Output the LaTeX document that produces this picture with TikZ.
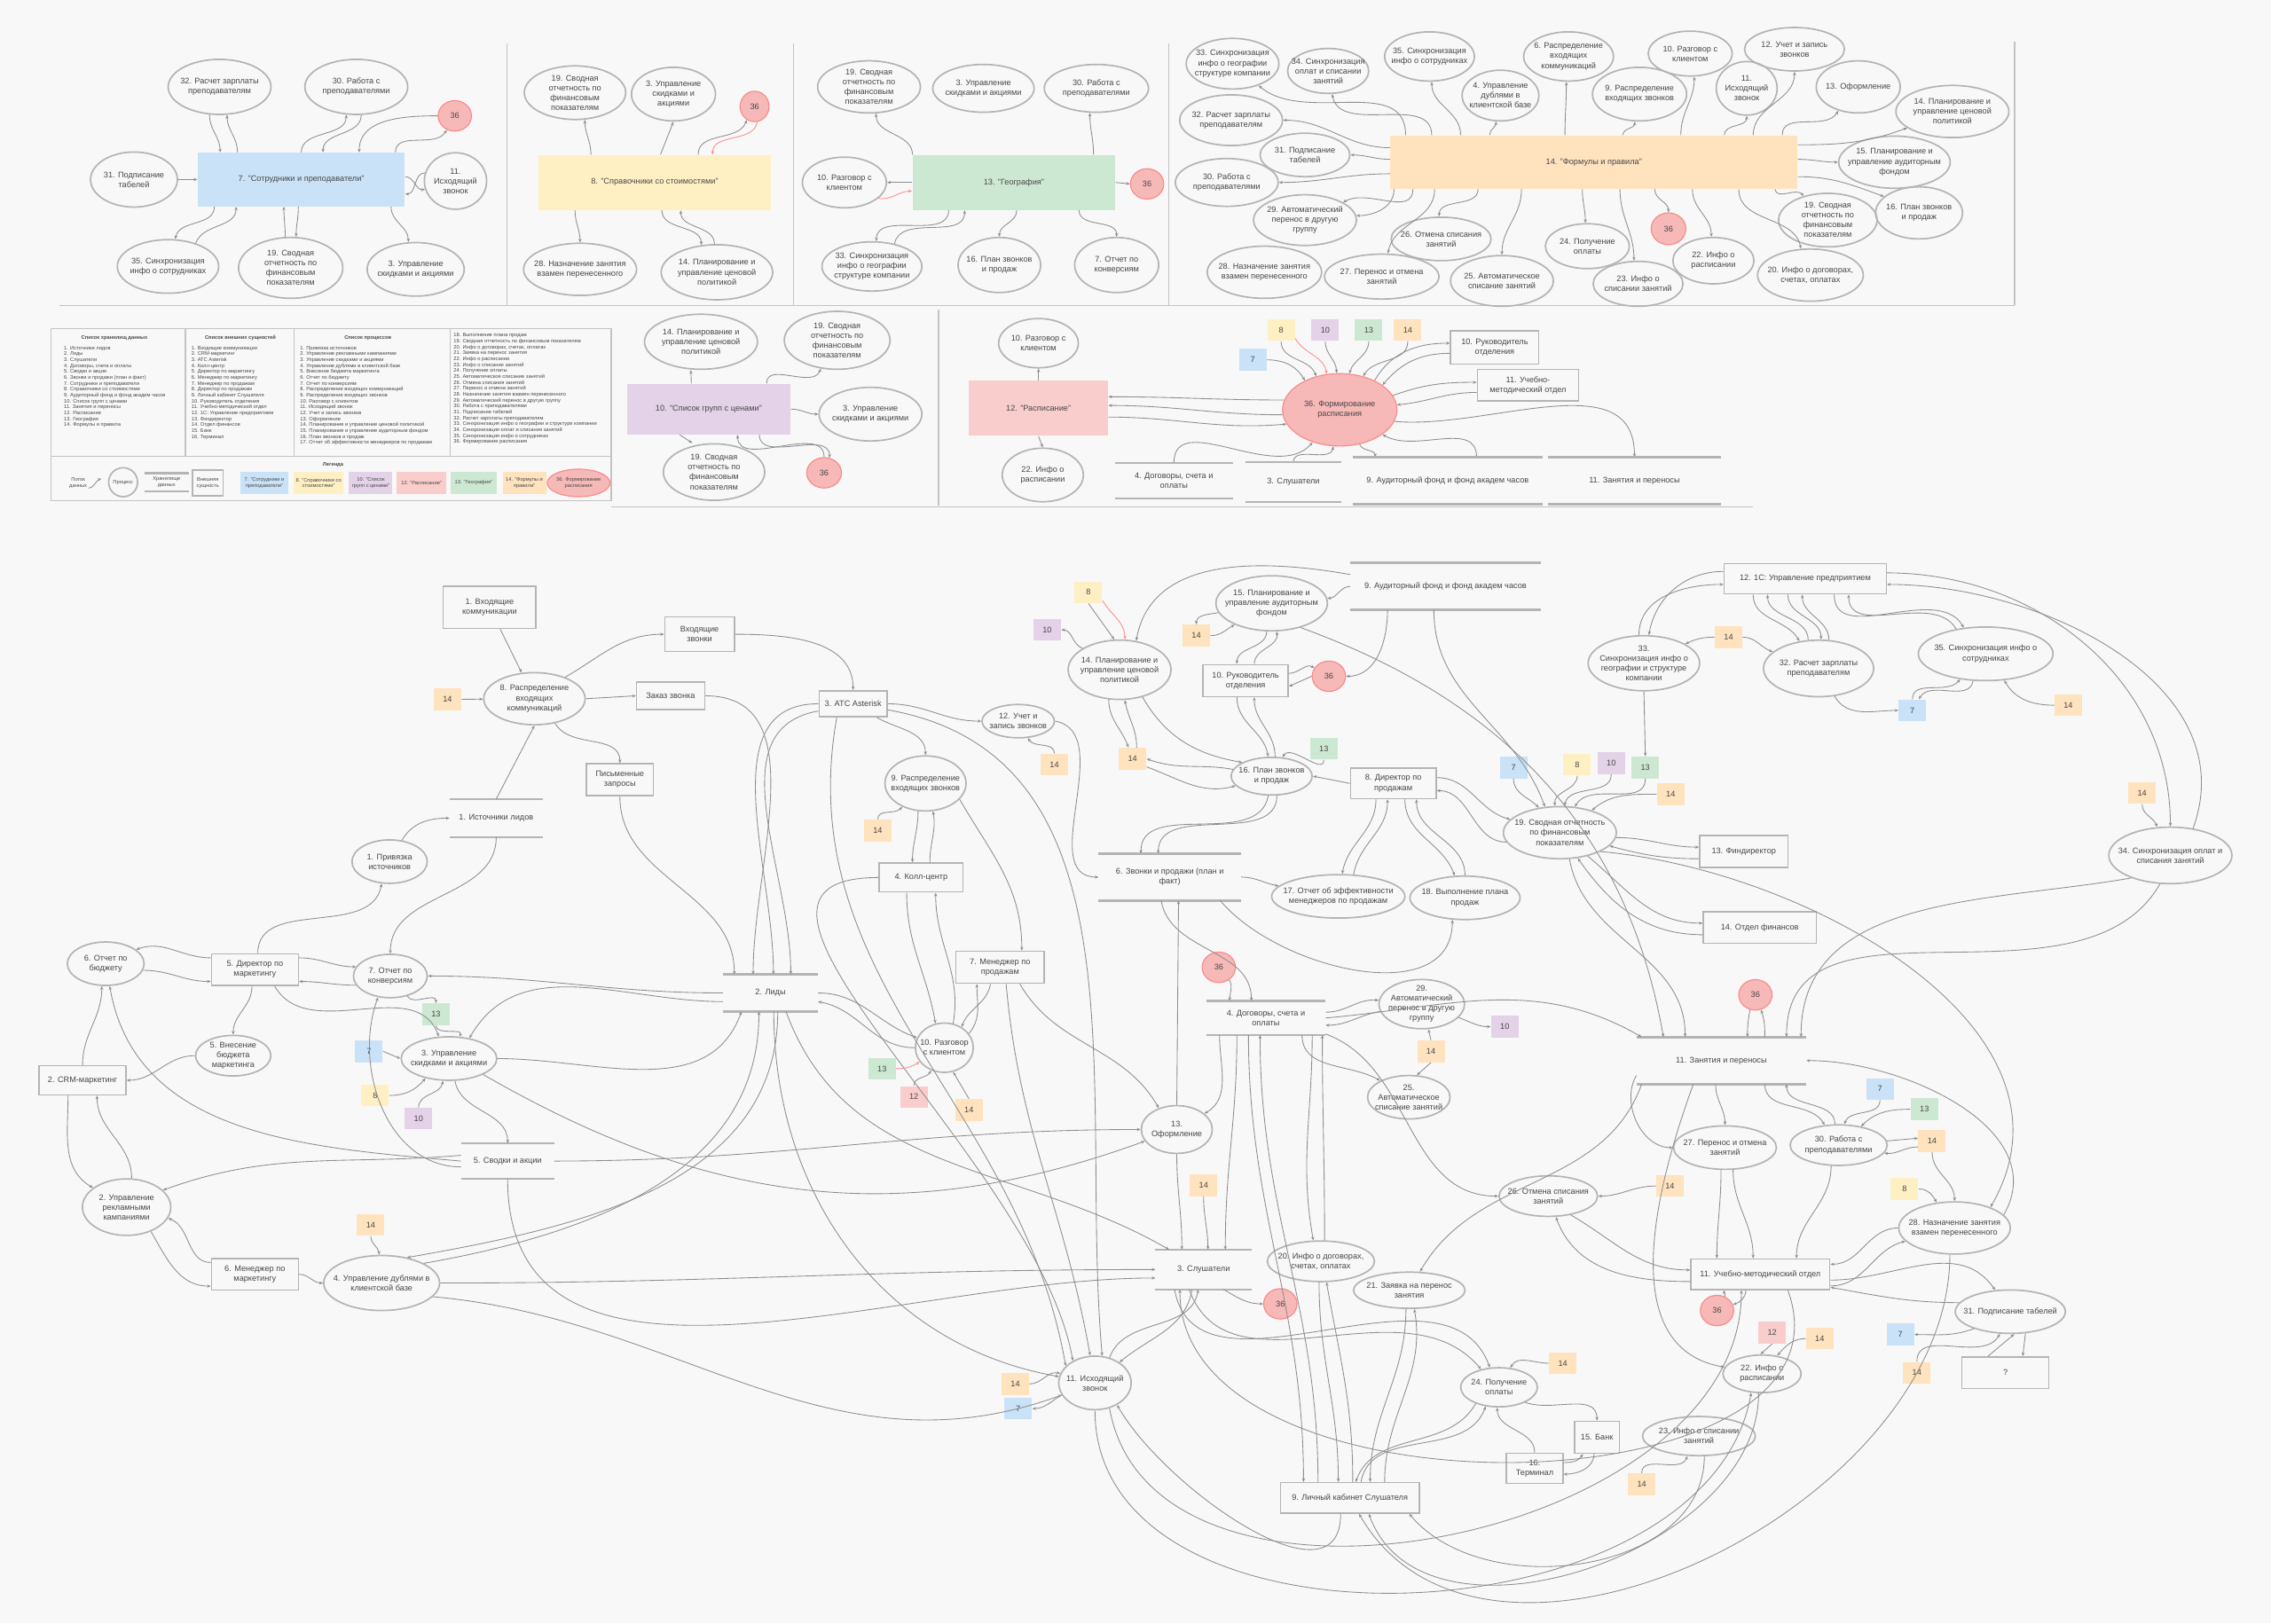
\documentclass[tikz,border=0pt]{standalone}
\usepackage{fontspec}
\setmainfont{Liberation Sans}
\usetikzlibrary{shapes.geometric,arrows.meta}

\definecolor{bgc}{HTML}{F8F8F8}
\definecolor{lnc}{HTML}{8E8E8E}
\definecolor{bdc}{HTML}{B4B4B4}
\definecolor{txc}{HTML}{474747}
\definecolor{c7}{HTML}{C9E2F7}
\definecolor{c8}{HTML}{FFF0C4}
\definecolor{c10}{HTML}{E3D2E8}
\definecolor{c12}{HTML}{F8CDCC}
\definecolor{c13}{HTML}{CDE8D2}
\definecolor{c14}{HTML}{FFE2BE}
\definecolor{c36}{HTML}{F7B8B8}

\newlength{\px}
\setlength{\px}{0.03cm}

\tikzset{
  every node/.style={font=\fontsize{4.8}{5.8}\selectfont, text=txc, align=center, inner sep=0pt},
  flow/.style={-{Stealth[length=2.2pt,width=1.8pt]}, draw=lnc, line width=0.45pt},
  redflow/.style={flow, draw=red!45},
  proc/.style n args={2}{ellipse, draw=bdc, line width=0.9pt, inner xsep=-6pt, inner ysep=-2pt,
    minimum width=#1\px, minimum height=#2\px},
  ext/.style n args={2}{rectangle, draw=bdc, line width=0.8pt, fill=bgc,
    minimum width=#1\px, minimum height=#2\px},
  store/.style n args={2}{rectangle, minimum width=#1\px, minimum height=#2\px},
  storeline/.style={draw=bdc, line width=1.3pt},
  hub/.style n args={3}{rectangle, fill=#1, minimum width=#2\px, minimum height=#3\px},
  sq/.style={rectangle, fill=#1, minimum width=19\px, minimum height=15\px},
  rc/.style={ellipse, fill=c36, draw=c36!75!red, line width=0.6pt, minimum width=23\px, minimum height=21\px},
  frame/.style={draw=bdc!80, line width=0.6pt},
  lgtxt/.style={font=\fontsize{3}{3.48}\selectfont},
}

\begin{document}
\begin{tikzpicture}[x=0.03cm, y=-0.03cm]
  \fill[bgc] (0,0) rectangle (1568,1121);
  \useasboundingbox (0,0) rectangle (1568,1121);

  % Panel frames
  \draw[frame] (41,211) -- (1391,211);
  \draw[frame] (350,30) -- (350,211);
  \draw[frame] (548,30) -- (548,211);
  \draw[frame] (807,30) -- (807,211);
  \draw[frame] (1391,29) -- (1391,211);
  \draw[frame] (648,214) -- (648,349);
  \draw[frame] (422,350) -- (1210,350);

  % Panel 7: staff
  \node[hub={c7}{143}{37}] (a7) at (208,124) {7. "Сотрудники и преподаватели"};
  \node[proc={71}{38}] (a32) at (151.6,60) {32. Расчет зарплаты\\преподавателям};
  \node[proc={71}{38}] (a30) at (246,60) {30. Работа с\\преподавателями};
  \node[rc] (a36) at (314,80) {36};
  \node[proc={60}{38}] (a31) at (92.5,124) {31. Подписание\\табелей};
  \node[proc={43}{39}] (a11) at (314.5,125) {11.\\Исходящий\\звонок};
  \node[proc={70}{37}] (a35) at (116,184) {35. Синхронизация\\инфо о сотрудниках};
  \node[proc={72}{42}] (a19) at (200.7,185) {19. Сводная\\отчетность по\\финансовым\\показателям};
  \node[proc={67}{37}] (a3) at (287,186) {3. Управление\\скидками и акциями};

  \draw[flow] (a32.-110) to[out=-90,in=90] ([xshift=-56\px]a7.north);
  \draw[flow] ([xshift=-44\px]a7.north) to[out=90,in=-90] (a32.-75);
  \draw[flow] ([xshift=0\px]a7.north) to[out=90,in=-90] (a30.-110);
  \draw[flow] (a30.-80) to[out=-90,in=90] ([xshift=15\px]a7.north);
  \draw[flow] (a36.west) to[out=180,in=90] ([xshift=40\px]a7.north);
  \draw[flow] ([xshift=65\px]a7.north) to[out=90,in=-120] (a36.-120);
  \draw[flow] (a31.east) -- (a7.west);
  \draw[flow] (a11.165) to[out=180,in=0] ([yshift=-10\px]a7.east);
  \draw[flow] ([yshift=2\px]a7.east) to[out=0,in=190] (a11.-165);
  \draw[flow] ([xshift=-60\px]a7.south) to[out=-90,in=80] (a35.75);
  \draw[flow] (a35.40) to[out=70,in=-90] ([xshift=-45\px]a7.south);
  \draw[flow] (a19.100) to[out=90,in=-90] ([xshift=-12\px]a7.south);
  \draw[flow] ([xshift=-2\px]a7.south) to[out=-90,in=90] (a19.80);
  \draw[flow] ([xshift=62\px]a7.south) to[out=-90,in=90] (a3.105);

  % Panel 8: prices
  \node[hub={c8}{160}{38}] (b8) at (452,126) {8. "Справочники со стоимостями"};
  \node[proc={70}{37}] (b19) at (397,64) {19. Сводная\\отчетность по\\финансовым\\показателям};
  \node[proc={58}{37}] (b3) at (465,65) {3. Управление\\скидками и\\акциями};
  \node[rc, minimum width=20\px] (b36) at (521,73.5) {36};
  \node[proc={78}{36}] (b28) at (400.5,186) {28. Назначение занятия\\взамен перенесенного};
  \node[proc={77}{38}] (b14) at (495,188) {14. Планирование и\\управление ценовой\\политикой};

  \draw[flow] ([xshift=-44\px]b8.north) to[out=90,in=-90] (b19.-70);
  \draw[flow] ([xshift=4\px]b8.north) -- (b3.south);
  \draw[flow] ([xshift=30\px]b8.north) to[out=90,in=-110] (b36.-120);
  \draw[redflow] (b36.-80) to[out=-100,in=90] ([xshift=40\px]b8.north);
  \draw[flow] ([xshift=-55\px]b8.south) to[out=-90,in=90] (b28.north);
  \draw[flow] ([xshift=5\px]b8.south) to[out=-90,in=90] (b14.120);
  \draw[flow] (b14.95) to[out=90,in=-90] ([xshift=18\px]b8.south);

  % Panel 13: geography
  \node[hub={c13}{140}{38}] (c13) at (700,126) {13. "География"};
  \node[proc={71}{36}] (c19) at (600,60) {19. Сводная\\отчетность по\\финансовым\\показателям};
  \node[proc={70}{33}] (c3) at (679,61) {3. Управление\\скидками и акциями};
  \node[proc={72}{33}] (c30) at (757,61) {30. Работа с\\преподавателями};
  \node[proc={58}{35}] (c10) at (583,126) {10. Разговор с\\клиентом};
  \node[rc] (c36) at (792,127) {36};
  \node[proc={69}{34}] (c33) at (602,184) {33. Синхронизация\\инфо о географии\\структуре компании};
  \node[proc={57}{38}] (c16) at (690,183) {16. План звонков\\и продаж};
  \node[proc={58}{38}] (c7) at (771,183) {7. Отчет по\\конверсиям};

  \draw[flow] ([xshift=-70\px]c13.north) to[out=90,in=-90] (c19.-75);
  \draw[flow] ([xshift=55\px]c13.north) to[out=90,in=-90] (c30.-105);
  \draw[flow] (c13.west) -- (c10.east);
  \draw[redflow] (c10.-25) to[out=-10,in=180] ([yshift=-6\px]c13.west);
  \draw[flow] (c13.east) -- (c36.west);
  \draw[flow] ([xshift=-45\px]c13.south) to[out=-90,in=90] (c33.80);
  \draw[flow] (c33.45) to[out=80,in=-90] ([xshift=-34\px]c13.south);
  \draw[flow] ([xshift=2\px]c13.south) to[out=-90,in=90] (c16.north);
  \draw[flow] ([xshift=45\px]c13.south) to[out=-90,in=90] (c7.north);

  % Panel 14: formulas
  \node[hub={c14}{281}{37}] (d14) at (1100.5,112) {14. "Формулы и правила"};
  \node[proc={64}{35}] (d33) at (851,44) {33. Синхронизация\\инфо о географии\\структуре компании};
  \node[proc={56}{31}] (d34) at (917,49) {34. Синхронизация\\оплат и списании\\занятий};
  \node[proc={62}{34}] (d35) at (987,39) {35. Синхронизация\\инфо о сотрудниках};
  \node[proc={62}{34}] (d6) at (1083,39) {6. Распределение\\входящих\\коммуникаций};
  \node[proc={53}{35}] (d4) at (1036,66) {4. Управление\\дублями в\\клиентской базе};
  \node[proc={65}{37}] (d9) at (1132,65) {9. Распределение\\входящих звонков};
  \node[proc={58}{31}] (d10) at (1167,37) {10. Разговор с\\клиентом};
  \node[proc={42}{37}] (d11) at (1206,61) {11.\\Исходящий\\звонок};
  \node[proc={69}{30}] (d12) at (1239,34) {12. Учет и запись\\звонков};
  \node[proc={58}{36}] (d13) at (1283,60) {13. Оформление};
  \node[proc={78}{36}] (d14b) at (1348,77) {14. Планирование и\\управление ценовой\\политикой};
  \node[proc={77}{36}] (d15) at (1308,112) {15. Планирование и\\управление аудиторным\\фондом};
  \node[proc={60}{36}] (d16) at (1325,147) {16. План звонков\\и продаж};
  \node[proc={68}{37}] (d19) at (1262,152) {19. Сводная\\отчетность по\\финансовым\\показателям};
  \node[proc={73}{36}] (d20) at (1250,190) {20. Инфо о договорах,\\счетах, оплатах};
  \node[proc={56}{32}] (d22) at (1183,180) {22. Инфо о\\расписании};
  \node[rc, minimum width=24\px, minimum height=22\px] (d36) at (1152,158) {36};
  \node[proc={62}{31}] (d23) at (1131,196) {23. Инфо о\\списании занятий};
  \node[proc={58}{31}] (d24) at (1096,170) {24. Получение\\оплаты};
  \node[proc={71}{35}] (d25) at (1037,194) {25. Автоматическое\\списание занятий};
  \node[proc={69}{30}] (d26) at (995,165) {26. Отмена списания\\занятий};
  \node[proc={79}{31}] (d27) at (954,191) {27. Перенос и отмена\\занятий};
  \node[proc={79}{36}] (d28) at (873,188) {28. Назначение занятия\\взамен перенесенного};
  \node[proc={71}{35}] (d32) at (850,83) {32. Расчет зарплаты\\преподавателям};
  \node[proc={62}{30}] (d31) at (901,107) {31. Подписание\\табелей};
  \node[proc={71}{33}] (d30) at (847,126) {30. Работа с\\преподавателями};
  \node[proc={71}{35}] (d29) at (901,152) {29. Автоматический\\перенос в другую\\группу};

  \draw[flow] ([xshift=-130\px]d14.north) to[out=90,in=-40] (d33.-40);
  \draw[flow] ([xshift=-112\px]d14.north) to[out=90,in=-80] (d34.-80);
  \draw[flow] ([xshift=-92\px]d14.north) to[out=90,in=-90] (d35.-85);
  \draw[flow] ([xshift=-72\px]d14.north) to[out=90,in=-90] (d4.-100);
  \draw[flow] ([xshift=-20\px]d14.north) to[out=90,in=-90] (d6.-95);
  \draw[flow] ([xshift=20\px]d14.north) to[out=90,in=-90] (d9.-100);
  \draw[flow] ([xshift=60\px]d14.north) to[out=90,in=-90] (d10.-80);
  \draw[flow] ([xshift=90\px]d14.north) to[out=90,in=-90] (d11.-90);
  \draw[flow] ([xshift=110\px]d14.north) to[out=90,in=-90] (d12.-90);
  \draw[flow] ([xshift=130\px]d14.north) to[out=90,in=-120] (d13.-130);
  \draw[flow] ([yshift=10\px]d14.west) to[out=180,in=0] (d32.east);
  \draw[flow] ([yshift=2\px]d14.west) to[out=180,in=0] (d31.east);
  \draw[flow] ([yshift=-8\px]d14.west) to[out=180,in=0] (d30.east);
  \draw[flow] ([xshift=-125\px]d14.south) to[out=-90,in=30] (d29.25);
  \draw[flow] ([xshift=-138\px]d14.south) to[out=-90,in=0] (d29.5);
  \draw[flow] ([xshift=-110\px]d14.south) to[out=-90,in=80] (d27.75);
  \draw[flow] ([xshift=-80\px]d14.south) to[out=-90,in=90] (d26.95);
  \draw[flow] ([xshift=-50\px]d14.south) to[out=-90,in=90] (d25.90);
  \draw[flow] ([xshift=-8\px]d14.south) to[out=-90,in=90] (d24.95);
  \draw[flow] ([xshift=18\px]d14.south) to[out=-90,in=90] (d23.100);
  \draw[flow] ([xshift=42\px]d14.south) to[out=-90,in=90] (d36.north);
  \draw[flow] ([xshift=68\px]d14.south) to[out=-90,in=90] (d22.95);
  \draw[flow] ([xshift=100\px]d14.south) to[out=-90,in=100] (d20.110);
  \draw[flow] ([xshift=125\px]d14.south) to[out=-80,in=130] (d19.135);
  \draw[flow] ([yshift=12\px]d14.east) to[out=0,in=200] (d14b.200);
  \draw[flow] ([yshift=2\px]d14.east) to[out=0,in=180] (d15.west);
  \draw[flow] ([yshift=-10\px]d14.east) to[out=0,in=160] (d16.155);

  % Legend table
  \draw[frame] (35,227) rectangle (422,346);
  \draw[frame] (35,315) -- (422,315);
  \foreach \xx in {128,203,311}
    \draw[frame] (\xx,227) -- (\xx,315);
  \node[lgtxt] (hd1) at (79,233.5) {\bfseries Список хранилищ данных};
  \node[lgtxt] (hd2) at (166,233.5) {\bfseries Список внешних сущностей};
  \node[lgtxt] (hd3) at (254,233.5) {\bfseries Список процессов};
  \node[lgtxt, align=left, anchor=north west] (ls1) at (44,238.8) {1. Источники лидов\\2. Лиды\\3. Слушатели\\4. Договоры, счета и оплаты\\5. Сводки и акции\\6. Звонки и продажи (план и факт)\\7. Сотрудники и преподаватели\\8. Справочники со стоимостями\\9. Аудиторный фонд и фонд академ часов\\10. Список групп с ценами\\11. Занятия и переносы\\12. Расписание\\13. География\\14. Формулы и правила};
  \node[lgtxt, align=left, anchor=north west] (ls2) at (132,238.8) {1. Входящие коммуникации\\2. CRM-маркетинг\\3. АТС Asterisk\\4. Колл-центр\\5. Директор по маркетингу\\6. Менеджер по маркетингу\\7. Менеджер по продажам\\8. Директор по продажам\\9. Личный кабинет Слушателя\\10. Руководитель отделения\\11. Учебно-методический отдел\\12. 1С: Управление предприятием\\13. Финдиректор\\14. Отдел финансов\\15. Банк\\16. Терминал};
  \node[lgtxt, align=left, anchor=north west] (ls3) at (207,238.8) {1. Привязка источников\\2. Управление рекламными кампаниями\\3. Управление скидками и акциями\\4. Управление дублями в клиентской базе\\5. Внесение бюджета маркетинга\\6. Отчет по бюджету\\7. Отчет по конверсиям\\8. Распределение входящих коммуникаций\\9. Распределение входящих звонков\\10. Разговор с клиентом\\11. Исходящий звонок\\12. Учет и запись звонков\\13. Оформление\\14. Планирование и управление ценовой политикой\\15. Планирование и управление аудиторным фондом\\16. План звонков и продаж\\17. Отчет об эффективности менеджеров по продажам};
  \node[lgtxt, align=left, anchor=north west] (ls4) at (313,230) {18. Выполнение плана продаж\\19. Сводная отчетность по финансовым показателям\\20. Инфо о договорах, счетах, оплатах\\21. Заявка на перенос занятия\\22. Инфо о расписании\\23. Инфо о списании занятий\\24. Получение оплаты\\25. Автоматическое списание занятий\\26. Отмена списания занятий\\27. Перенос и отмена занятий\\28. Назначение занятия взамен перенесенного\\29. Автоматический перенос в другую группу\\30. Работа с преподавателями\\31. Подписание табелей\\32. Расчет зарплаты преподавателям\\33. Синхронизация инфо о географии и структуре компании\\34. Синхронизация оплат и списания занятий\\35. Синхронизация инфо о сотрудниках\\36. Формирование расписания};

  % Legend symbols
  \node[lgtxt] (lgh) at (230,321) {\bfseries Легенда};
  \node[lgtxt] (lgflow) at (54,333.5) {Поток\\данных};
  \coordinate (lga) at (61,337);
  \coordinate (lgb) at (70,330.5);
  \draw[flow] (lga) to[out=0,in=200] (lgb);
  \node[proc={20}{20}, lgtxt, inner xsep=0pt] (lgproc) at (85,333) {Процесс};
  \node[store={30}{12}, lgtxt] (lgstore) at (115,333) {Хранилище\\данных};
  \node[ext={21}{18}, lgtxt] (lgext) at (143.5,333.5) {Внешняя\\сущность};
  \node[hub={c7}{33}{15}, lgtxt] (lg7) at (182.5,333.5) {7. "Сотрудники и\\преподаватели"};
  \node[hub={c8}{34}{15}, lgtxt] (lg8) at (220,333.5) {8. "Справочники со\\стоимостями"};
  \node[hub={c10}{30}{15}, lgtxt] (lg10) at (256,333.5) {10. "Список\\групп с ценами"};
  \node[hub={c12}{34}{15}, lgtxt] (lg12) at (291,333.5) {12. "Расписание"};
  \node[hub={c13}{32}{15}, lgtxt] (lg13) at (327,333.5) {13. "География"};
  \node[hub={c14}{30}{15}, lgtxt] (lg14) at (362,333.5) {14. "Формулы и\\правила"};
  \node[rc, minimum width=35\px, minimum height=19\px, lgtxt] (lg36) at (399.5,333.5) {36. Формирование\\расписания};

  % Panel 10: price groups
  \node[hub={c10}{113}{35}] (g10) at (489.3,282.5) {10. "Список групп с ценами"};
  \node[proc={78}{38}] (g14) at (484,236) {14. Планирование и\\управление ценовой\\политикой};
  \node[proc={73}{40}] (g19a) at (578,235) {19. Сводная\\отчетность по\\финансовым\\показателям};
  \node[proc={71}{37}] (g3) at (601,286) {3. Управление\\скидками и акциями};
  \node[proc={70}{39}] (g19b) at (493,326) {19. Сводная\\отчетность по\\финансовым\\показателям};
  \node[rc, minimum width=24\px] (g36) at (569,326.5) {36};

  \draw[flow] ([xshift=-12\px]g10.north) -- ([xshift=-7\px]g14.south);
  \draw[flow] ([xshift=40\px]g10.north) to[out=90,in=-110] (g19a.-120);
  \draw[flow] (g10.east) to[out=0,in=180] (g3.west);
  \draw[flow] ([xshift=-20\px]g10.south) -- ([xshift=-15\px]g19b.north);
  \draw[flow] (g36.north) to[out=90,in=-90] ([xshift=20\px]g10.south);
  \draw[flow] ([xshift=35\px]g10.south) to[out=-90,in=90] (g36.70);

  % Panel 12: schedule
  \node[hub={c12}{96}{38}] (h12) at (717,282) {12. "Расписание"};
  \node[proc={55}{34}] (h10) at (717,237) {10. Разговор с\\клиентом};
  \node[proc={56}{37}] (h22) at (720,328) {22. Инфо о\\расписании};
  \node[rc, minimum width=79\px, minimum height=50\px] (h36) at (925,283) {36. Формирование\\расписания};
  \node[ext={61}{23}] (h10e) at (1032,240) {10. Руководитель\\отделения};
  \node[ext={70}{22}] (h11e) at (1055,266) {11. Учебно-\\методический отдел};
  \node[store={81}{24}] (hs4) at (810.5,332) {4. Договоры, счета и\\оплаты};
  \node[store={66}{27}] (hs3) at (893,333) {3. Слушатели};
  \node[store={131}{32}] (hs9) at (999.5,332) {9. Аудиторный фонд и фонд академ часов};
  \node[store={119}{32}] (hs11) at (1128.5,332) {11. Занятия и переносы};
  \foreach \nm/\xx/\yy/\lb in {hq7/865/248.5/7, hq8/884.5/228/8, hq10/915/228/10, hq13/945/228/13, hq14/972/228/14}
    \node[sq=c\lb] (\nm) at (\xx,\yy) {\lb};

  \draw[flow] (h12.north) -- (h10.south);
  \draw[flow] (h12.south) -- (h22.north);
  \draw[flow] (h36.170) to[out=180,in=0] ([yshift=8\px]h12.east);
  \draw[flow] (h36.185) to[out=180,in=0] ([yshift=2\px]h12.east);
  \draw[flow] ([yshift=-6\px]h12.east) to[out=0,in=185] (h36.195);
  \draw[flow] (hq7.east) to[out=0,in=120] (h36.140);
  \draw[flow] (hq8.south) to[out=-90,in=110] (h36.125);
  \draw[redflow] (hq8.-30) to[out=-60,in=100] (h36.110);
  \draw[flow] (hq10.south) to[out=-90,in=90] (h36.95);
  \draw[flow] (hq13.south) to[out=-90,in=75] (h36.75);
  \draw[flow] (hq14.south) to[out=-90,in=60] (h36.55);
  \draw[flow] (h36.40) to[out=60,in=180] ([yshift=3\px]h10e.west);
  \draw[flow] ([yshift=-4\px]h10e.west) to[out=180,in=50] (h36.30);
  \draw[flow] (h36.15) to[out=20,in=180] ([yshift=2\px]h11e.west);
  \draw[flow] ([yshift=-5\px]h11e.west) to[out=180,in=5] (h36.5);
  \draw[flow] (hs4.north) to[out=90,in=-130] (h36.-130);
  \draw[flow] (hs3.north) to[out=90,in=-100] (h36.-100);
  \draw[flow] (h36.-60) to[out=-70,in=90] ([xshift=-50\px]hs9.north);
  \draw[flow] ([xshift=20\px]hs9.north) to[out=90,in=-30] (h36.-30);
  \draw[flow] (h36.-12) to[out=-5,in=90] (hs11.north);

  % Main diagram: external entities
  \node[ext={64}{29}] (e1) at (338,419.5) {1. Входящие\\коммуникации};
  \node[ext={48}{24}] (ein) at (483,438) {Входящие\\звонки};
  \node[ext={47}{19}] (ezz) at (463,480.5) {Заказ звонка};
  \node[ext={46}{22}] (epz) at (428,538.5) {Письменные\\запросы};
  \node[ext={47}{18}] (e3) at (589,486) {3. АТС Asterisk};
  \node[ext={58}{20}] (e4) at (636,606) {4. Колл-центр};
  \node[ext={61}{22}] (e7) at (690.5,668) {7. Менеджер по\\продажам};
  \node[ext={60}{22}] (e5) at (176,669.6) {5. Директор по\\маркетингу};
  \node[ext={60}{20}] (e2) at (57,746) {2. CRM-маркетинг};
  \node[ext={60}{22}] (e6) at (176,880) {6. Менеджер по\\маркетингу};
  \node[ext={59}{22}] (e10) at (860,470) {10. Руководитель\\отделения};
  \node[ext={59}{21}] (e8) at (962,541) {8. Директор по\\продажам};
  \node[ext={112}{21}] (e12) at (1246.4,399.6) {12. 1С: Управление предприятием};
  \node[ext={61}{22}] (e13) at (1204,588) {13. Финдиректор};
  \node[ext={78}{22}] (e14) at (1215,640.5) {14. Отдел финансов};
  \node[ext={96}{21}] (e9) at (932,1034.4) {9. Личный кабинет Слушателя};
  \node[ext={31}{22}] (e15) at (1102.6,992.5) {15. Банк};
  \node[ext={39}{21}] (e16) at (1059.6,1014) {16.\\Терминал};
  \node[ext={96}{21}] (e11) at (1215.4,880) {11. Учебно-методический отдел};
  \node[ext={60}{22}] (eq) at (1384.6,948) {?};

  % Main diagram: data stores
  \node[store={64}{26}] (s1) at (342.6,565) {1. Источники лидов};
  \node[store={65}{25}] (s2) at (532,685.7) {2. Лиды};
  \node[store={64}{24}] (s5) at (350.5,801.8) {5. Сводки и акции};
  \node[store={98}{32}] (s6) at (807.7,605.7) {6. Звонки и продажи (план и\\факт)};
  \node[store={131}{32}] (s9) at (998,405) {9. Аудиторный фонд и фонд академ часов};
  \node[store={82}{23}] (s4) at (874,703) {4. Договоры, счета и\\оплаты};
  \node[store={117}{32}] (s11) at (1188.5,732.4) {11. Занятия и переносы};
  \node[store={66}{27}] (s3) at (831,876.7) {3. Слушатели};
  \foreach \st in {s1,s2,s5,s6,s9,s4,s11,s3,hs4,hs3,hs9,hs11,lgstore}
    \draw[storeline] (\st.north west) -- (\st.north east) (\st.south west) -- (\st.south east);

  % Main diagram: processes
  \node[proc={70}{36}] (p8) at (369,482.5) {8. Распределение\\входящих\\коммуникаций};
  \node[proc={52}{30}] (p1) at (269,595) {1. Привязка\\источников};
  \node[proc={53}{30}] (p6) at (73,665.5) {6. Отчет по\\бюджету};
  \node[proc={51}{30}] (p7) at (269.5,674) {7. Отчет по\\конверсиям};
  \node[proc={52}{28}] (p5) at (161,729) {5. Внесение\\бюджета\\маркетинга};
  \node[proc={66}{30}] (p3) at (310,731) {3. Управление\\скидками и акциями};
  \node[proc={61}{39}] (p2) at (87.4,833.6) {2. Управление\\рекламными\\кампаниями};
  \node[proc={80}{38}] (p4) at (263.5,886) {4. Управление дублями в\\клиентской базе};
  \node[proc={56}{38}] (p9) at (639,541) {9. Распределение\\входящих звонков};
  \node[proc={50}{23}] (p12) at (703,498) {12. Учет и\\запись звонков};
  \node[proc={40}{34}] (p10) at (652,723.5) {10. Разговор\\с клиентом};
  \node[proc={71}{41}] (p14) at (773,462.5) {14. Планирование и\\управление ценовой\\политикой};
  \node[proc={77}{38}] (p15) at (878,416.6) {15. Планирование и\\управление аудиторным\\фондом};
  \node[proc={56}{26}] (p16) at (878,536) {16. План звонков\\и продаж};
  \node[proc={92}{30}] (p17) at (924,619) {17. Отчет об эффективности\\менеджеров по продажам};
  \node[proc={76}{30}] (p18) at (1011.5,620) {18. Выполнение плана\\продаж};
  \node[proc={78}{36}] (p19) at (1077,575) {19. Сводная отчетность\\по финансовым\\показателям};
  \node[proc={77}{38}] (p33) at (1135,458) {33.\\Синхронизация инфо о\\географии и структуре\\компании};
  \node[proc={76}{39}] (p32) at (1255.6,461.6) {32. Расчет зарплаты\\преподавателям};
  \node[proc={93}{37}] (p35) at (1371,451.5) {35. Синхронизация инфо о\\сотрудниках};
  \node[proc={85}{39}] (p34) at (1498.5,590.7) {34. Синхронизация оплат и\\списания занятий};
  \node[proc={59}{34}] (p29) at (981.6,693.4) {29.\\Автоматический\\перенос в другую\\группу};
  \node[proc={57}{30}] (p25) at (972.7,757.7) {25.\\Автоматическое\\списание занятий};
  \node[proc={49}{33}] (p13) at (812.5,780) {13.\\Оформление};
  \node[proc={71}{30}] (p27) at (1191,792.5) {27. Перенос и отмена\\занятий};
  \node[proc={67}{28}] (p30) at (1269.5,790.8) {30. Работа с\\преподавателями};
  \node[proc={68}{28}] (p26) at (1069,826) {26. Отмена списания\\занятий};
  \node[proc={77}{36}] (p28) at (1349.5,848) {28. Назначение занятия\\взамен перенесенного};
  \node[proc={74}{28}] (p20) at (912,871) {20. Инфо о договорах,\\счетах, оплатах};
  \node[proc={77}{25}] (p21) at (973,891) {21. Заявка на перенос\\занятия};
  \node[proc={50}{37}] (p11) at (756,955) {11. Исходящий\\звонок};
  \node[proc={53}{27}] (p24) at (1035,958) {24. Получение\\оплаты};
  \node[proc={78}{27}] (p23) at (1173,991.7) {23. Инфо о списании\\занятий};
  \node[proc={54}{26}] (p22) at (1216.6,948.7) {22. Инфо о\\расписании};
  \node[proc={76}{30}] (p31) at (1388,905.8) {31. Подписание табелей};

  % Schedule builders and rule tags
  \foreach \nm/\xx/\yy in {r1/841.5/668, r2/917.5/467, r3/1212/687, r4/884/900.4, r5/1185.5/905}
    \node[rc] (\nm) at (\xx,\yy) {36};
  \foreach \nm/\xx/\yy/\lb in {q1/309/483/14, q2/606/573.5/14, q3/301/700.5/13, q4/254.7/726/7,
      q5/259/756.5/8, q6/289/772.5/10, q7/609/738/13, q8/631/757.5/12, q9/669/766.5/14,
      q10/728/528/14, q11/751.5/409/8, q12/723/435/10, q13/826/439/14, q14/782/524/14,
      q15/914/517/13, q16/1045/530/7, q17/1089/528/8, q18/1112.5/527/10, q19/1136/530/13,
      q20/1153.5/548.5/14, q21/1193.5/440/14, q22/1320.4/490.6/7, q23/1428/487/14,
      q24/1479/547.7/14, q25/1039/709/10, q26/988/726/14, q27/831/818.5/14, q28/1153/819/14,
      q29/1298/752/7, q30/1328.7/766/13, q31/1334/788/14, q32/1315/821/8, q33/256/846/14,
      q34/701/955.7/14, q35/703/972.7/7, q36/1079/941.4/14, q37/1133.5/1025/14,
      q38/1223.6/920.3/12, q39/1256.4/924.4/14, q40/1312/921.6/7, q41/1323.5/948/14}
    \node[sq=c\lb] (\nm) at (\xx,\yy) {\lb};

  % Leads and marketing
  \draw[flow] (e1) -- (p8);
  \draw[flow] (s1.north) -- (p8.south);
  \draw[flow] (q1) -- (p8);
  \draw[flow] (p8.35) to[out=30,in=180] (ein.west);
  \draw[flow] (p8.east) -- (ezz.west);
  \draw[flow] (p8.-50) to[out=-60,in=90] (epz.north);
  \draw[flow] (ein.east) to[out=0,in=90] (e3.north);
  \draw[flow] (ezz.east) to[out=0,in=90] ([xshift=-12\px]s2.north);
  \draw[flow] (epz.south) to[out=-90,in=90] ([xshift=-25\px]s2.north);
  \draw[flow] (e3.west) to[out=180,in=90] ([xshift=2\px]s2.north);
  \draw[flow] ([yshift=-5\px]e3.west) to[out=190,in=90] ([xshift=14\px]s2.north);
  \draw[flow] (p1.60) to[out=60,in=180] (s1.west);
  \draw[flow] (e5.80) to[out=90,in=-100] (p1.-110);
  \draw[flow] (s1.south) to[out=-90,in=90] (p7.north);
  \draw[flow] (e5.165) to[out=180,in=20] (p6.25);
  \draw[flow] (p6.-10) to[out=0,in=180] (e5.-165);
  \draw[flow] (e5.15) to[out=0,in=180] (p7.165);
  \draw[flow] (p7.-165) to[out=180,in=0] (e5.-15);
  \draw[flow] (e5.-100) to[out=-90,in=90] (p5.north);
  \draw[flow] (p5.west) to[out=180,in=0] (e2.east);
  \draw[flow] (e2.north) to[out=90,in=-90] (p6.-100);
  \draw[flow] (s2.west) to[out=180,in=0] (p7.east);
  \draw[flow] (p3.east) to[out=0,in=-110] ([xshift=-20\px]s2.south);
  \draw[flow] ([yshift=-6\px]s2.west) to[out=180,in=60] (p3.45);
  \draw[flow] (p7.-50) to[out=-60,in=90] (q3.north);
  \draw[flow] (q3.south) to[out=-90,in=60] (p3.65);
  \draw[flow] (q4.east) -- (p3.west);
  \draw[flow] (q5.east) to[out=0,in=-130] (p3.-140);
  \draw[flow] (q6.north) to[out=90,in=-100] (p3.-105);
  \draw[flow] (p3.-75) to[out=-80,in=90] (s5.north);
  \draw[flow] ([yshift=-4\px]s5.west) to[out=180,in=-110] (p7.-120);
  \draw[flow] (s5.west) to[out=175,in=-80] (p6.-80);
  \draw[flow] (e5.-40) to[out=-60,in=110] (p3.115);
  \draw[flow] ([xshift=-10\px]e2.south) to[out=-90,in=150] (p2.150);
  \draw[flow] (p2.80) to[out=90,in=-90] ([xshift=10\px]e2.south);
  \draw[flow] ([yshift=4\px]s5.west) to[out=185,in=20] (p2.25);
  \draw[flow] (e6.165) to[out=180,in=-20] (p2.-15);
  \draw[flow] (p2.-45) to[out=-60,in=180] (e6.-165);
  \draw[flow] (e6.east) to[out=0,in=180] (p4.west);
  \draw[flow] (q33.south) to[out=-90,in=95] (p4.95);
  \draw[flow] (p4.25) to[out=10,in=-90] ([xshift=-8\px]s2.south);
  \draw[flow] ([xshift=5\px]s2.south) to[out=-90,in=10] (p4.45);
  \draw[flow] (p4.east) to[out=0,in=180] (s3.west);
  \draw[flow] (p4.-15) to[out=-5,in=200] (p11.200);
  \draw[flow] (s5.south) to[out=-90,in=180] (s3.-170);
  \draw[flow] (s5.east) to[out=0,in=180] (p13.west);
  \draw[flow] (p3.-25) to[out=-30,in=200] (p13.200);

  % Calls
  \draw[flow] (e3.east) to[out=0,in=180] (p12.west);
  \draw[flow] (e3.-30) to[out=-30,in=90] (p9.north);
  \draw[flow] (q2.north) to[out=90,in=-130] (p9.-135);
  \draw[flow] (p9.-105) to[out=-90,in=90] ([xshift=-6\px]e4.north);
  \draw[flow] ([xshift=6\px]e4.north) to[out=90,in=-80] (p9.-75);
  \draw[flow] (p9.-25) to[out=-60,in=90] ([xshift=15\px]e7.north);
  \draw[flow] (q10.north) to[out=90,in=-60] (p12.-60);
  \draw[flow] (p12.east) to[out=-10,in=180] (s6.west);
  \draw[flow] ([xshift=-10\px]e4.south) to[out=-90,in=100] (p10.110);
  \draw[flow] (p10.70) to[out=80,in=-90] ([xshift=10\px]e4.south);
  \draw[flow] (e4.west) to[out=180,in=100] (p11.135);
  \draw[flow] (e3.-140) to[out=-100,in=100] (p11.150);
  \draw[flow] (e3.-10) to[out=-10,in=95] (p11.75);
  \draw[flow] (e7.-120) to[out=-100,in=70] (p10.50);
  \draw[flow] (p10.30) to[out=50,in=-90] ([xshift=-16\px]e7.south);
  \draw[flow] (p10.west) to[out=180,in=-10] ([yshift=-6\px]s2.east);
  \draw[flow] (s2.east) to[out=0,in=160] (p10.160);
  \draw[redflow] (q7.east) to[out=0,in=-150] (p10.-150);
  \draw[flow] (q8.north) to[out=90,in=-120] (p10.-120);
  \draw[flow] (q9.north) -- (p10.-70);
  \draw[flow] (e7.-40) to[out=-60,in=120] (p13.130);
  \draw[flow] (e7.-70) to[out=-85,in=100] (p11.100);
  \draw[flow] (s2.-80) to[out=-90,in=170] (p11.170);
  \draw[flow] (s2.-50) to[out=-70,in=150] (s3.150);

  % Prices, rooms and sales plans
  \draw[flow] (q11.south) -- (p14.100);
  \draw[redflow] (q11.-30) to[out=-60,in=90] (p14.80);
  \draw[flow] (p14.150) to[out=160,in=0] (q12.east);
  \draw[flow] (p14.-110) to[out=-90,in=110] (q14.110);
  \draw[flow] (q14.70) to[out=90,in=-80] (p14.-80);
  \draw[flow] ([yshift=-8\px]s9.north west) to[out=170,in=80] (p14.60);
  \draw[flow] (p15.-170) to[out=-170,in=90] (q13.north);
  \draw[flow] (q13.east) to[out=0,in=-150] (p15.-150);
  \draw[flow] (s9.west) to[out=180,in=5] (p15.5);
  \draw[flow] (p15.-100) to[out=-90,in=90] ([xshift=-6\px]e10.north);
  \draw[flow] ([xshift=6\px]e10.north) to[out=90,in=-80] (p15.-80);
  \draw[flow] (r2.west) -- ([yshift=-4\px]e10.east);
  \draw[flow] ([yshift=5\px]e10.east) to[out=0,in=150] (r2.150);
  \draw[flow] ([xshift=-40\px]s9.south) to[out=-90,in=0] (r2.east);
  \draw[flow] ([xshift=-6\px]e10.south) to[out=-90,in=100] (p16.100);
  \draw[flow] (p16.80) to[out=90,in=-90] ([xshift=6\px]e10.south);
  \draw[flow] (p16.170) to[out=170,in=-20] (q14.east);
  \draw[flow] (q14.-30) to[out=-20,in=195] (p16.-165);
  \draw[flow] (q15.south) to[out=-90,in=60] (p16.60);
  \draw[flow] (e8.west) -- (p16.east);
  \draw[flow] (p16.-100) to[out=-100,in=90] ([xshift=-20\px]s6.north);
  \draw[flow] (p16.-75) to[out=-90,in=90] ([xshift=-8\px]s6.north);
  \draw[flow] (p14.-50) to[out=-60,in=170] (p16.155);
  \draw[flow] (s6.east) to[out=0,in=170] (p17.170);
  \draw[flow] (s6.-25) to[out=-50,in=-90] (p18.-120);
  \draw[flow] ([xshift=-12\px]e8.south) to[out=-90,in=80] (p17.80);
  \draw[flow] (p17.55) to[out=80,in=-90] ([xshift=-4\px]e8.south);
  \draw[flow] ([xshift=8\px]e8.south) to[out=-90,in=110] (p18.115);
  \draw[flow] (p18.90) to[out=90,in=-90] ([xshift=16\px]e8.south);
  \draw[flow] ([yshift=4\px]e8.east) to[out=0,in=165] (p19.165);
  \draw[flow] (p19.-170) to[out=180,in=0] ([yshift=-5\px]e8.east);
  \draw[flow] ([xshift=-8\px]s9.south) to[out=-90,in=110] (p19.120);
  \draw[flow] (p15.-40) to[out=-20,in=100] ([xshift=-40\px]s11.north);
  \draw[flow] (q16.south) to[out=-90,in=135] (p19.130);
  \draw[flow] (q17.south) to[out=-90,in=100] (p19.100);
  \draw[flow] (q18.south) to[out=-90,in=80] (p19.80);
  \draw[flow] (q19.south) to[out=-90,in=60] (p19.60);
  \draw[flow] (q20.west) to[out=180,in=40] (p19.35);
  \draw[flow] (p19.-5) to[out=0,in=180] ([yshift=3\px]e13.west);
  \draw[flow] ([yshift=-5\px]e13.west) to[out=180,in=-15] (p19.-15);
  \draw[flow] (p19.-40) to[out=-40,in=180] ([yshift=3\px]e14.west);
  \draw[flow] ([yshift=-5\px]e14.west) to[out=180,in=-55] (p19.-55);

  % 1C synchronisation
  \draw[flow] (p33.south) -- (q19.north);
  \draw[flow] (q21.west) to[out=180,in=25] (p33.25);
  \draw[flow] (q21.east) to[out=0,in=160] (p32.160);
  \draw[flow] ([yshift=5\px]e12.west) to[out=180,in=80] (p33.80);
  \draw[flow] (p33.100) to[out=90,in=180] ([yshift=-4\px]e12.west);
  \draw[flow] ([xshift=-36\px]e12.south) to[out=-90,in=120] (p32.125);
  \draw[flow] (p32.110) to[out=90,in=-90] ([xshift=-26\px]e12.south);
  \draw[flow] ([xshift=-12\px]e12.south) to[out=-90,in=90] (p32.85);
  \draw[flow] (p32.70) to[out=90,in=-90] ([xshift=-2\px]e12.south);
  \draw[flow] ([xshift=20\px]e12.south) to[out=-90,in=120] (p35.130);
  \draw[flow] (p35.140) to[out=120,in=-90] ([xshift=30\px]e12.south);
  \draw[flow] (p32.-60) to[out=-60,in=180] (q22.west);
  \draw[flow] (q22.north) to[out=90,in=-130] (p35.-135);
  \draw[flow] (p35.-115) to[out=-100,in=60] (q22.60);
  \draw[flow] (q23.west) to[out=180,in=-60] (p35.-55);
  \draw[flow] ([yshift=4\px]e12.east) to[out=0,in=90] (p34.north);
  \draw[flow] (p34.50) to[out=70,in=0] ([yshift=-4\px]e12.east);
  \draw[flow] (q24.south) to[out=-90,in=110] (p34.115);
  \draw[flow] (p34.-110) to[out=-120,in=90] ([xshift=45\px]s11.north);
  \draw[flow] (p34.-150) to[out=-170,in=90] ([xshift=55\px]s11.north);

  % Contracts, lessons and transfers
  \draw[flow] (r3.-110) to[out=-100,in=90] ([xshift=18\px]s11.north);
  \draw[flow] ([xshift=30\px]s11.north) to[out=90,in=-70] (r3.-70);
  \draw[flow] (p19.-70) to[out=-80,in=90] ([xshift=-25\px]s11.north);
  \draw[flow] (s4.east) to[out=5,in=150] ([xshift=-55\px]s11.north);
  \draw[flow] (r1.-50) to[out=-60,in=90] ([xshift=-25\px]s4.north);
  \draw[flow] ([xshift=-6\px]s6.south) to[out=-80,in=90] ([xshift=-10\px]s4.north);
  \draw[flow] ([yshift=4\px]s4.east) to[out=0,in=175] (p29.175);
  \draw[flow] (p29.-170) to[out=190,in=0] ([yshift=-5\px]s4.east);
  \draw[flow] (p29.-20) to[out=-20,in=180] (q25.west);
  \draw[flow] (q26.north) -- (p29.-75);
  \draw[flow] (q26.south) -- (p25.70);
  \draw[flow] ([xshift=25\px]s4.south) to[out=-90,in=150] (p25.150);
  \draw[flow] (p13.north) -- ([xshift=6\px]s6.south);
  \draw[flow] ([xshift=-32\px]s4.south) to[out=-90,in=30] (p13.30);
  \draw[flow] (p13.south) to[out=-90,in=90] ([xshift=-15\px]s3.north);
  \draw[flow] ([xshift=-20\px]s4.south) to[out=-90,in=90] ([xshift=15\px]s3.north);
  \draw[flow] (q27.south) to[out=-90,in=90] ([xshift=3\px]s3.north);
  \draw[flow] ([xshift=32\px]s4.south) to[out=-90,in=100] (p20.110);
  \draw[flow] (p20.80) to[out=90,in=-90] ([xshift=39\px]s4.south);
  \draw[flow] ([xshift=-12\px]s4.south) to[out=-90,in=90] ([xshift=-32\px]e9.north);
  \draw[flow] ([xshift=-22\px]e9.north) to[out=90,in=-90] ([xshift=-4\px]s4.south);
  \draw[flow] (p20.-95) to[out=-90,in=90] ([xshift=-8\px]e9.north);
  \draw[flow] ([xshift=2\px]e9.north) to[out=90,in=-80] (p20.-75);
  \draw[flow] ([xshift=-55\px]s11.south) to[out=-110,in=60] (p21.60);
  \draw[flow] (p21.-100) to[out=-90,in=90] ([xshift=14\px]e9.north);
  \draw[flow] ([xshift=24\px]e9.north) to[out=90,in=-80] (p21.-75);
  \draw[flow] (s4.-15) to[out=-20,in=180] (p26.west);
  \draw[flow] (q28.west) to[out=180,in=0] (p26.east);
  \draw[flow] (p26.-40) to[out=-30,in=180] ([yshift=3\px]e11.west);
  \draw[flow] ([yshift=-5\px]e11.west) to[out=180,in=-70] (p26.-70);
  \draw[flow] (s11.-170) to[out=-120,in=180] (p27.west);
  \draw[flow] ([xshift=-4\px]s11.south) to[out=-90,in=90] (p27.north);
  \draw[flow] ([xshift=30\px]s11.south) to[out=-90,in=120] (p30.125);
  \draw[flow] (p30.100) to[out=90,in=-90] ([xshift=45\px]s11.south);
  \draw[flow] (q29.south) to[out=-90,in=70] (p30.75);
  \draw[flow] (q30.west) to[out=180,in=45] (p30.40);
  \draw[flow] (p30.5) -- ([yshift=2\px]q31.west);
  \draw[flow] ([yshift=-4\px]q31.west) to[out=180,in=-5] (p30.-10);
  \draw[flow] (q31.south) to[out=-90,in=90] (p28.north);
  \draw[flow] (q32.east) to[out=0,in=120] (p28.125);
  \draw[flow] (p28.west) to[out=180,in=0] ([yshift=-4\px]e11.north east);
  \draw[flow] ([yshift=-8\px]e11.east) to[out=0,in=195] (p28.-165);
  \draw[flow] (p19.-25) to[out=-5,in=60] (p28.30);
  \draw[flow] (p28.15) to[out=60,in=0] (s11.east);
  \draw[flow] (p27.-100) to[out=-90,in=90] ([xshift=-30\px]e11.north);
  \draw[flow] (p27.-70) to[out=-90,in=90] ([xshift=-5\px]e11.north);
  \draw[flow] (p30.-110) to[out=-90,in=90] ([xshift=25\px]e11.north);
  \draw[flow] ([xshift=-10\px]e11.south) to[out=-90,in=20] (r5.20);
  \draw[flow] (r5.60) to[out=80,in=-90] ([xshift=-25\px]e11.south);
  \draw[flow] (s11.-140) to[out=-110,in=170] (p22.170);
  \draw[flow] (q38.south) -- (p22.95);
  \draw[flow] (q39.west) to[out=180,in=50] (p22.50);
  \draw[flow] ([yshift=-4\px]e11.east) to[out=0,in=125] (p31.125);
  \draw[flow] (p31.170) to[out=180,in=-10] ([yshift=-9\px]e11.east);
  \draw[flow] (p31.-155) to[out=-160,in=0] (q40.east);
  \draw[flow] (q41.north) to[out=90,in=-120] (p31.-115);
  \draw[flow] ([xshift=-12\px]eq.north) -- (p31.-80);
  \draw[flow] (p31.-55) -- ([xshift=12\px]eq.north);

  % Students, calls and payments
  \draw[flow] (q34.east) to[out=0,in=165] (p11.165);
  \draw[flow] (p11.-160) to[out=-150,in=0] (q35.east);
  \draw[flow] (s3.-120) to[out=-100,in=40] (p11.40);
  \draw[flow] (p11.60) to[out=70,in=-100] (s3.-105);
  \draw[flow] (s3.-45) to[out=-30,in=180] (r4.west);
  \draw[flow] ([xshift=-20\px]s3.south) to[out=-80,in=110] (p24.115);
  \draw[flow] ([xshift=-10\px]s3.south) to[out=-70,in=130] (p24.135);
  \draw[flow] (e9.55) to[out=80,in=-110] (p24.-125);
  \draw[flow] (p24.-145) to[out=-120,in=70] (e9.70);
  \draw[flow] (e16.north) to[out=90,in=-90] (p24.-95);
  \draw[flow] (p24.-30) to[out=-20,in=90] (e15.north);
  \draw[flow] (e15.-100) to[out=-90,in=0] ([yshift=-4\px]e16.east);
  \draw[flow] ([yshift=4\px]e16.east) to[out=0,in=-120] (e15.-130);
  \draw[flow] (q36.west) to[out=180,in=60] (p24.60);
  \draw[flow] (q37.north) to[out=90,in=-110] (p23.-120);
  \draw[flow] (p23.-75) to[out=-90,in=-50] (e9.-15);
  \draw[flow] (p22.-100) to[out=-90,in=-70] (e9.-40);
  \draw[flow] (p11.-90) to[out=-90,in=-100] (p22.-120);
  \draw[flow] (p11.-60) to[out=-80,in=-90] (e11.-140);
  \draw[flow] (e11.-30) to[out=-70,in=-90] (s3.-140);
  \draw[flow] (p28.-100) to[out=-90,in=-60] (e9.-60);
  \draw[flow] (e9.-120) to[out=-90,in=-60] (p11.-45);
\end{tikzpicture}
\end{document}
